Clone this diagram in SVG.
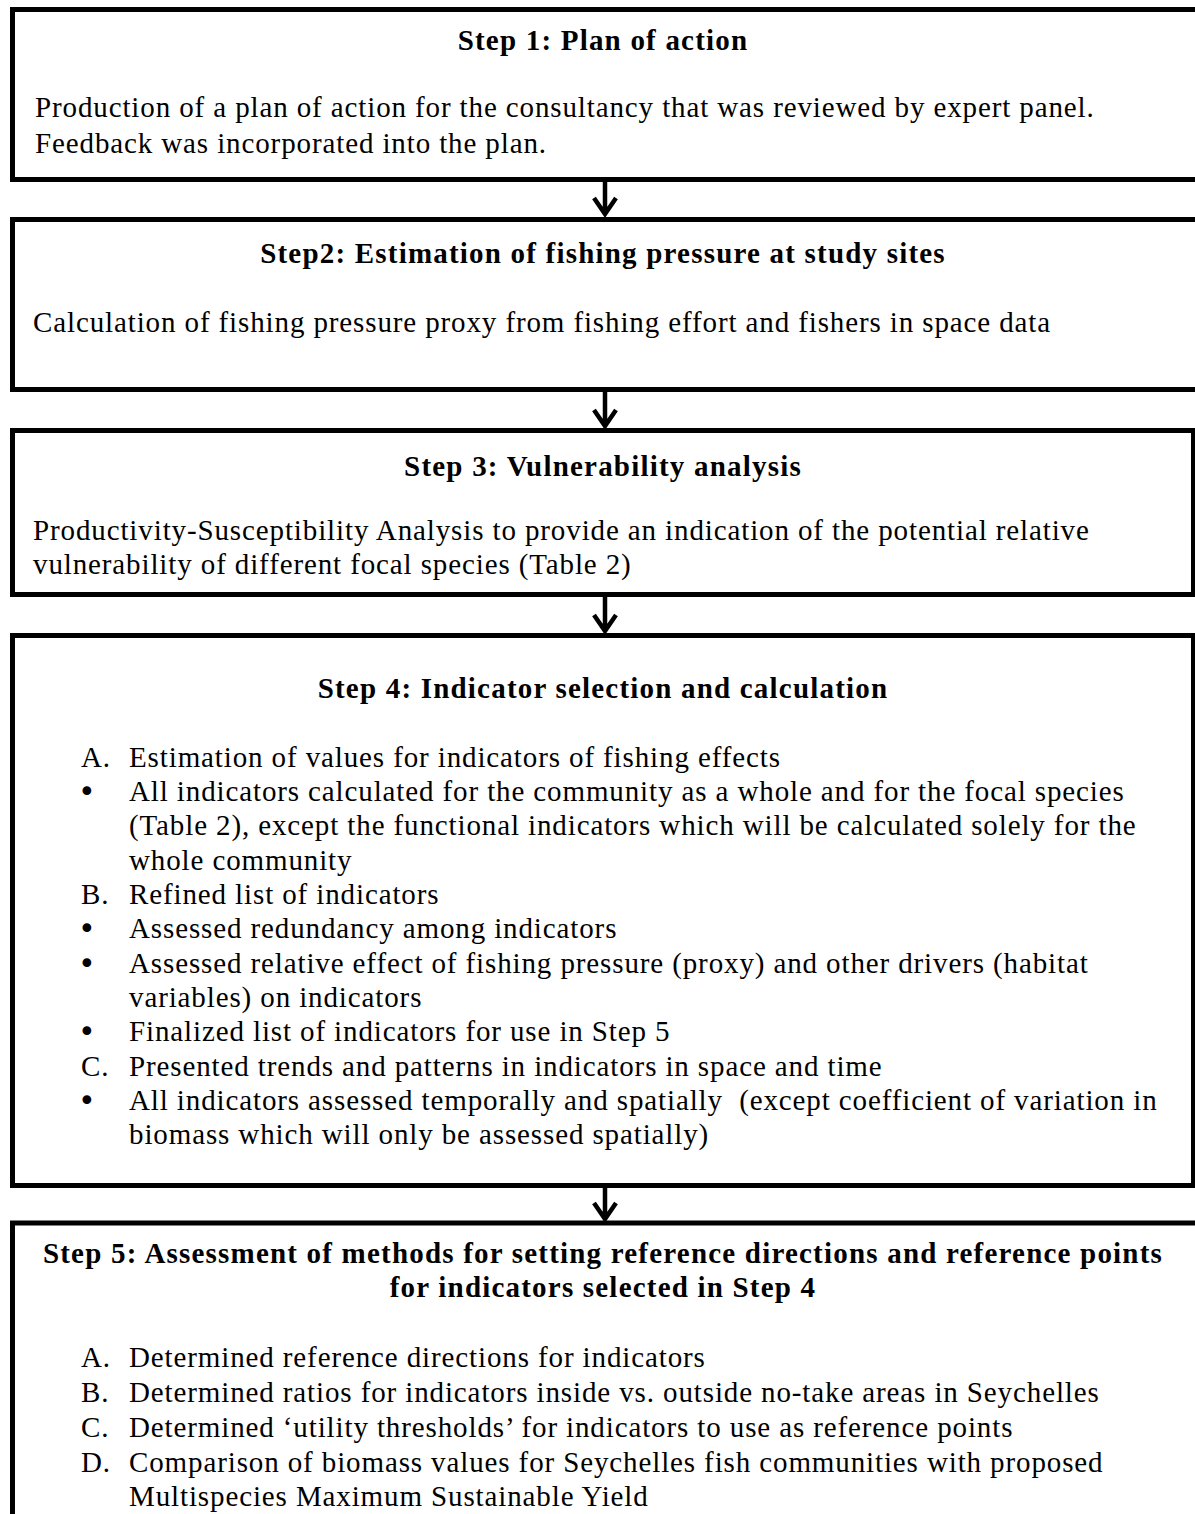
<svg xmlns="http://www.w3.org/2000/svg" width="1195" height="1514" viewBox="0 0 1195 1514">
<style>
.box{fill:#fff;stroke:#000;stroke-width:5}
.t{font-family:"Liberation Serif",serif;font-size:29px;letter-spacing:0.88px;fill:#000}
.bul{font-family:"DejaVu Sans",sans-serif;font-size:30px;fill:#000}
.b{font-family:"Liberation Serif",serif;font-size:29px;font-weight:bold;letter-spacing:1.2px;fill:#000;text-anchor:middle}
.arr{fill:none;stroke:#000;stroke-width:4.5}
</style>
<rect width="1195" height="1514" fill="#fff"/>
<g id="step1">
<rect class="box" x="12.5" y="9.5" width="1190" height="170"/>
<text class="b" x="603" y="50">Step 1: Plan of action</text>
<text class="t" x="35" y="117">Production of a plan of action for the consultancy that was reviewed by expert panel.</text>
<text class="t" x="35" y="153">Feedback was incorporated into the plan.</text>
</g>
<g id="step2">
<rect class="box" x="12.5" y="219.5" width="1190" height="170"/>
<text class="b" x="603" y="263">Step2: Estimation of fishing pressure at study sites</text>
<text class="t" x="33" y="332">Calculation of fishing pressure proxy from fishing effort and fishers in space data</text>
</g>
<g id="step3">
<rect class="box" x="12.5" y="430.5" width="1181" height="164"/>
<text class="b" x="603" y="476">Step 3: Vulnerability analysis</text>
<text class="t" x="33" y="540">Productivity-Susceptibility Analysis to provide an indication of the potential relative</text>
<text class="t" x="33" y="574">vulnerability of different focal species (Table 2)</text>
</g>
<g id="step4">
<rect class="box" x="12.5" y="635.5" width="1181" height="550"/>
<text class="b" x="603" y="698">Step 4: Indicator selection and calculation</text>
<g class="t">
<text x="81" y="767">A.</text><text x="129" y="767">Estimation of values for indicators of fishing effects</text>
<text x="129" y="801">All indicators calculated for the community as a whole and for the focal species</text>
<text x="129" y="835">(Table 2), except the functional indicators which will be calculated solely for the</text>
<text x="129" y="870">whole community</text>
<text x="81" y="904">B.</text><text x="129" y="904">Refined list of indicators</text>
<text x="129" y="938">Assessed redundancy among indicators</text>
<text x="129" y="973">Assessed relative effect of fishing pressure (proxy) and other drivers (habitat</text>
<text x="129" y="1007">variables) on indicators</text>
<text x="129" y="1041">Finalized list of indicators for use in Step 5</text>
<text x="81" y="1076">C.</text><text x="129" y="1076">Presented trends and patterns in indicators in space and time</text>
<text x="129" y="1110" xml:space="preserve">All indicators assessed temporally and spatially  (except coefficient of variation in</text>
<text x="129" y="1144">biomass which will only be assessed spatially)</text>
</g>
<g class="bul">
<text x="78" y="802">•</text>
<text x="78" y="939">•</text>
<text x="78" y="974">•</text>
<text x="78" y="1042">•</text>
<text x="78" y="1111">•</text>
</g>
</g>
<g id="step5">
<rect class="box" x="12.5" y="1223" width="1190" height="300"/>
<text class="b" x="603" y="1263">Step 5: Assessment of methods for setting reference directions and reference points</text>
<text class="b" x="603" y="1297">for indicators selected in Step 4</text>
<g class="t">
<text x="81" y="1367">A.</text><text x="129" y="1367">Determined reference directions for indicators</text>
<text x="81" y="1402">B.</text><text x="129" y="1402">Determined ratios for indicators inside vs. outside no-take areas in Seychelles</text>
<text x="81" y="1437">C.</text><text x="129" y="1437">Determined ‘utility thresholds’ for indicators to use as reference points</text>
<text x="81" y="1472">D.</text><text x="129" y="1472">Comparison of biomass values for Seychelles fish communities with proposed</text>
<text x="129" y="1506">Multispecies Maximum Sustainable Yield</text>
</g>
</g>
<g id="connectors">
<path class="arr" d="M605 182V214M594 198L605 214L616 198"/>
<path class="arr" d="M605 392V426M594 410L605 426L616 410"/>
<path class="arr" d="M605 597V631M594 615L605 631L616 615"/>
<path class="arr" d="M605 1188V1219M594 1203L605 1219L616 1203"/>
</g>
</svg>
